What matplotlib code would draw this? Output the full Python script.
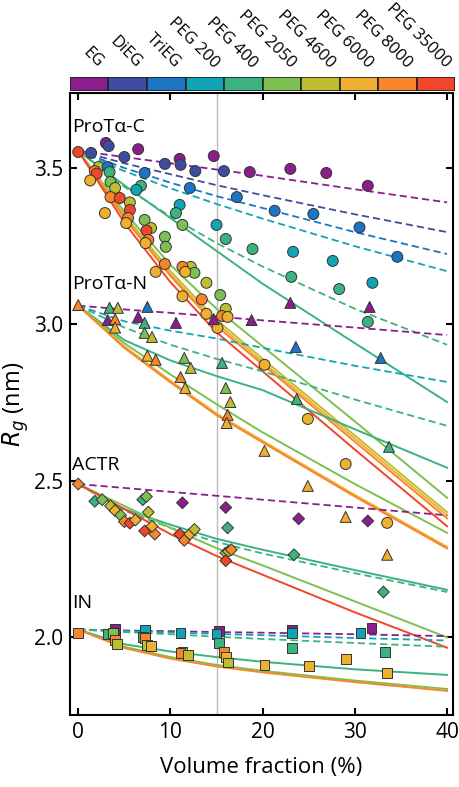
import numpy as np
import matplotlib.pyplot as plt
from matplotlib.patches import Rectangle

plt.rcParams['font.family'] = ['Open Sans', 'DejaVu Sans']

cosolutes = ['EG', 'DiEG', 'TriEG', 'PEG 200', 'PEG 400', 'PEG 2050',
             'PEG 4600', 'PEG 6000', 'PEG 8000', 'PEG 35000']
colors = ['#8b1e8c', '#3e4ca0', '#1c75c4', '#10a5b5', '#3cb27f',
          '#7cc052', '#bebe30', '#eeb02e', '#f7862a', '#f2462a']

# measured points: volume fraction (%), Rg (nm), cosolute index
protC_x = [0, 1.4, 3.0, 3.3, 6.5, 5.0, 2.2, 1.8, 2.0, 3.2, 3.4, 1.3, 3.5, 4.0, 3.5, 4.5,
           2.9, 5.6, 5.6, 5.4, 5.2, 7.2, 6.8, 6.3, 9.4, 11.0, 11.1, 12.7, 14.7, 15.8,
           18.6, 12.1, 17.2, 21.3, 11.0, 10.6, 11.3, 15.0, 16.0, 18.9, 7.2, 7.9, 7.4,
           7.6, 7.3, 9.4, 9.5, 9.4, 12.2, 11.3, 12.6, 11.6, 8.4, 13.9, 15.4, 11.3,
           13.4, 16.0, 13.9, 15.6, 16.2, 15.1, 20.2, 23.0, 26.9, 31.4, 25.5, 30.5,
           34.6, 23.3, 27.6, 31.9, 23.1, 28.3, 31.4, 24.9, 29.0, 33.5]
protC_y = [3.551, 3.548, 3.58, 3.57, 3.56, 3.535, 3.503, 3.49, 3.482, 3.503, 3.487,
           3.46, 3.455, 3.436, 3.407, 3.404, 3.356, 3.39, 3.366, 3.34, 3.324, 3.484,
           3.443, 3.43, 3.513, 3.529, 3.51, 3.49, 3.538, 3.49, 3.487, 3.436, 3.407,
           3.363, 3.382, 3.356, 3.318, 3.318, 3.273, 3.241, 3.334, 3.308, 3.30, 3.27,
           3.26, 3.28, 3.248, 3.193, 3.184, 3.184, 3.165, 3.168, 3.168, 3.133, 3.094,
           3.09, 3.08, 3.05, 3.034, 3.027, 3.024, 2.989, 2.871, 3.497, 3.484, 3.443,
           3.353, 3.31, 3.216, 3.232, 3.203, 3.133, 3.152, 3.113, 3.008, 2.698, 2.554,
           2.366]
protC_c = [9, 1, 0, 1, 0, 1, 6, 8, 9, 2, 4, 7, 5, 6, 8, 9, 7, 6, 9, 8, 7, 2, 4, 3, 1,
           0, 1, 1, 0, 1, 0, 2, 2, 2, 3, 4, 5, 3, 4, 4, 5, 6, 9, 8, 7, 5, 5, 8, 6, 8,
           5, 7, 7, 6, 5, 7, 8, 6, 7, 8, 7, 7, 7, 0, 0, 0, 2, 2, 2, 3, 3, 3, 4, 4, 4,
           7, 7, 7]

protN_x = [0, 3.4, 4.3, 3.2, 4.0, 4.0, 7.5, 6.5, 7.2, 7.2, 8.0, 10.6, 7.5, 8.4, 11.5,
           12.2, 11.1, 11.6, 14.7, 18.8, 15.6, 16.0, 16.5, 16.2, 16.1, 20.2, 23.0,
           31.6, 23.6, 32.8, 23.7, 33.7, 24.9, 29.0, 33.5]
protN_y = [3.062, 3.053, 3.053, 3.014, 3.017, 2.99, 3.056, 3.024, 3.005, 2.973, 2.96,
           3.005, 2.90, 2.887, 2.893, 2.861, 2.832, 2.797, 3.017, 3.014, 2.877, 2.797,
           2.752, 2.711, 2.685, 2.596, 3.069, 3.056, 2.928, 2.893, 2.762, 2.609,
           2.484, 2.385, 2.264]
protN_c = [8, 4, 6, 0, 8, 7, 2, 0, 4, 5, 6, 0, 7, 8, 5, 6, 8, 7, 0, 0, 4, 5, 6, 8, 7,
           7, 0, 0, 2, 2, 4, 4, 7, 7, 7]

actr_x = [0, 1.8, 2.6, 3.5, 4.0, 4.6, 5.0, 5.6, 6.2, 7.0, 7.4, 7.6, 7.2, 8.3, 8.0,
          11.3, 11.0, 11.5, 12.1, 12.6, 16.0, 16.2, 16.0, 16.3, 16.6, 16.0, 23.9,
          23.4, 31.4, 33.1]
actr_y = [2.49, 2.435, 2.44, 2.42, 2.405, 2.39, 2.37, 2.365, 2.375, 2.44, 2.45, 2.40,
          2.34, 2.33, 2.355, 2.43, 2.33, 2.31, 2.33, 2.345, 2.415, 2.35, 2.27, 2.275,
          2.28, 2.245, 2.379, 2.264, 2.372, 2.145]
actr_c = [8, 4, 5, 6, 7, 5, 8, 9, 7, 4, 5, 6, 9, 8, 7, 0, 9, 8, 7, 6, 0, 4, 5, 6, 8,
          9, 0, 4, 0, 4]

in_x = [0, 4.0, 3.2, 3.8, 4.0, 4.2, 7.2, 7.0, 7.2, 7.5, 7.9, 11.1, 11.3, 11.1, 11.9,
        15.3, 15.0, 15.3, 15.8, 16.0, 16.2, 23.2, 23.2, 23.2, 30.6, 31.8, 33.3, 20.2,
        25.0, 29.0, 33.5]
in_y = [2.015, 2.027, 2.012, 2.015, 1.992, 1.98, 2.024, 2.002, 1.998, 1.975, 1.972,
        2.014, 1.955, 1.95, 1.945, 2.021, 2.01, 1.982, 1.954, 1.938, 1.92, 2.024,
        2.014, 1.966, 2.014, 2.03, 1.954, 1.912, 1.909, 1.931, 1.887]
in_c = [8, 0, 4, 5, 8, 6, 3, 4, 8, 6, 7, 3, 5, 8, 6, 0, 3, 4, 8, 7, 6, 0, 3, 4, 3, 0,
        4, 7, 7, 7, 7]

# fitted curves sampled at these volume fractions
fit_x = [0, 5, 10, 15, 20, 30, 40]
protC_fits = [
    (0, '--', [3.555, 3.535, 3.515, 3.495, 3.475, 3.432, 3.39]),
    (1, '--', [3.555, 3.515, 3.48, 3.445, 3.413, 3.352, 3.295]),
    (2, '--', [3.555, 3.50, 3.453, 3.41, 3.372, 3.295, 3.225]),
    (3, '--', [3.555, 3.49, 3.435, 3.385, 3.338, 3.25, 3.17]),
    (4, '--', [3.555, 3.44, 3.345, 3.26, 3.185, 3.05, 2.935]),
    (4, '-', [3.555, 3.445, 3.34, 3.235, 3.13, 2.94, 2.752]),
    (5, '-', [3.555, 3.36, 3.19, 3.05, 2.93, 2.69, 2.446]),
    (6, '-', [3.555, 3.35, 3.17, 3.015, 2.89, 2.645, 2.40]),
    (7, '-', [3.555, 3.345, 3.16, 3.005, 2.88, 2.635, 2.39]),
    (8, '-', [3.555, 3.34, 3.155, 2.995, 2.872, 2.625, 2.38]),
    (9, '-', [3.555, 3.325, 3.135, 2.975, 2.85, 2.60, 2.355]),
]
protN_fits = [
    (0, '--', [3.06, 3.048, 3.037, 3.025, 3.013, 2.99, 2.966]),
    (3, '--', [3.06, 3.01, 2.98, 2.955, 2.925, 2.868, 2.816]),
    (4, '--', [3.06, 2.99, 2.935, 2.89, 2.85, 2.76, 2.676]),
    (4, '-', [3.06, 2.95, 2.885, 2.835, 2.79, 2.665, 2.542]),
    (5, '-', [3.06, 2.94, 2.84, 2.745, 2.655, 2.49, 2.334]),
    (7, '-', [3.06, 2.93, 2.82, 2.715, 2.628, 2.455, 2.289]),
    (8, '-', [3.06, 2.925, 2.815, 2.71, 2.623, 2.45, 2.284]),
]
actr_fits = [
    (0, '--', [2.49, 2.4775, 2.465, 2.4525, 2.44, 2.415, 2.39]),
    (4, '--', [2.49, 2.405, 2.35, 2.305, 2.268, 2.205, 2.145]),
    (4, '-', [2.49, 2.41, 2.36, 2.315, 2.28, 2.215, 2.152]),
    (5, '-', [2.49, 2.42, 2.35, 2.285, 2.23, 2.115, 2.0]),
    (9, '-', [2.49, 2.41, 2.33, 2.26, 2.20, 2.08, 1.967]),
]
in_fits = [
    (0, '--', [2.025, 2.022, 2.02, 2.017, 2.015, 2.01, 2.004]),
    (3, '--', [2.025, 2.02, 2.016, 2.011, 2.007, 1.998, 1.99]),
    (4, '--', [2.025, 2.017, 2.01, 2.002, 1.995, 1.982, 1.97]),
    (4, '-', [2.025, 1.978, 1.955, 1.937, 1.922, 1.898, 1.88]),
    (5, '-', [2.025, 1.97, 1.937, 1.912, 1.893, 1.862, 1.835]),
    (8, '-', [2.025, 1.966, 1.932, 1.907, 1.888, 1.857, 1.829]),
]

proteins = [
    ('ProTα-C', 3.63, 'o', protC_x, protC_y, protC_c, protC_fits),
    ('ProTα-N', 3.13, '^', protN_x, protN_y, protN_c, protN_fits),
    ('ACTR', 2.55, 'D', actr_x, actr_y, actr_c, actr_fits),
    ('IN', 2.11, 's', in_x, in_y, in_c, in_fits),
]

fig = plt.figure(figsize=(4.6, 7.87), dpi=100)
ax = fig.add_axes([0.152, 0.0915, 0.832, 0.7905])
cax = fig.add_axes([0.152, 0.8844, 0.838, 0.0178])

ax.axvline(15, color='#bbbbbb', lw=1.0, zorder=1)

sizes = {'o': 62, '^': 62, 'D': 36, 's': 50}
for name, ty, mk, xs, ys, cs, fits in proteins:
    for ci, ls, vals in fits:
        lw = 1.3 if ls == '--' else 1.4
        dash = dict(dashes=(4, 2.2)) if ls == '--' else {}
        ax.plot(fit_x, vals, color=colors[ci], lw=lw, ls=ls, zorder=2, **dash)
    ax.scatter(xs, ys, s=sizes[mk], marker=mk, c=[colors[c] for c in cs],
               edgecolors='#333333', linewidths=0.7, zorder=3)
    ax.text(-0.7, ty, name, fontsize=14, ha='left', va='center')

ax.set_xlim(-0.9, 40.6)
ax.set_ylim(1.752, 3.74)
ax.set_xticks([0, 10, 20, 30, 40])
ax.set_yticks([2.0, 2.5, 3.0, 3.5])
ax.tick_params(direction='in', length=5, width=1.5, labelsize=15, pad=5,
               top=True, right=True)
for sp in ax.spines.values():
    sp.set_linewidth(1.5)
ax.set_xlabel('Volume fraction (%)', fontsize=16, labelpad=10)
ax.set_ylabel('$R_g$ (nm)', fontsize=17, labelpad=2)

# cosolute colour bar
for i, c in enumerate(colors):
    cax.add_patch(Rectangle((i, 0), 1, 1, facecolor=c, edgecolor='#222222', lw=1.2))
    cax.text(i + 0.65, 1.4, cosolutes[i], rotation=-45, rotation_mode='anchor',
             ha='right', va='bottom', fontsize=12)
cax.set_xlim(0, 10)
cax.set_ylim(0, 1)
cax.axis('off')

fig.savefig('out.png', dpi=100)
